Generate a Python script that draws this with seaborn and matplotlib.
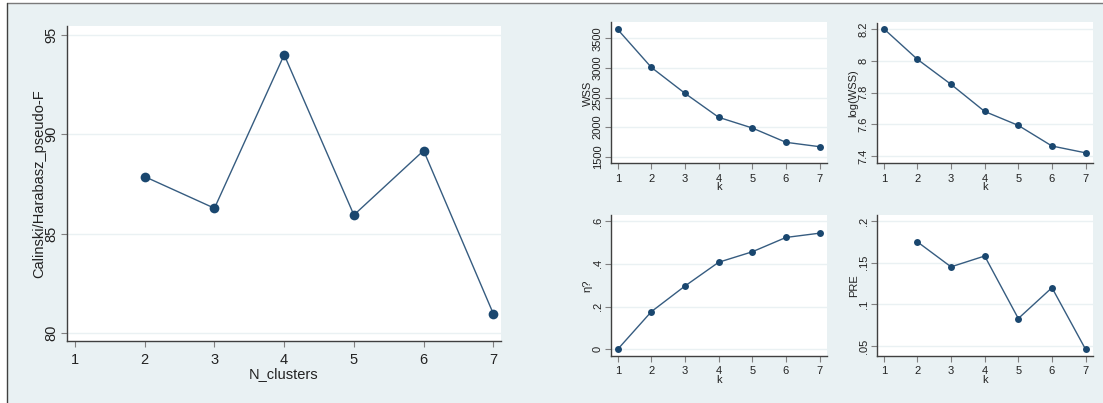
import matplotlib
matplotlib.use("Agg")

import matplotlib.pyplot as plt
from matplotlib.lines import Line2D
from matplotlib.patches import Rectangle
import seaborn as sns

# cluster-stopping statistics
k_values = [1, 2, 3, 4, 5, 6, 7]
n_clusters = [2, 3, 4, 5, 6, 7]
pseudo_f = [87.87, 86.28, 94.0, 85.94, 89.18, 80.97]
wss = [3652, 3010, 2571, 2166, 1985, 1743, 1669]
log_wss = [8.203, 8.010, 7.852, 7.681, 7.593, 7.463, 7.420]
eta_sq = [0.0, 0.176, 0.296, 0.407, 0.456, 0.523, 0.543]
pre_k = [2, 3, 4, 5, 6, 7]
pre = [0.175, 0.145, 0.158, 0.083, 0.120, 0.046]

W, H = 1103, 403
BG = "#E9F1F3"
NAVY = "#1A476F"
LINE = "#365C80"
GRID = "#EAF1F3"

sns.set_theme(style="white")
plt.rcParams["font.family"] = ["Liberation Sans", "DejaVu Sans"]

fig = plt.figure(figsize=(W / 100, H / 100), dpi=100, facecolor="white")

# stata-like graph region: light bluish background, frame on top and left
fig.patches.append(Rectangle((7 / W, 0), 1 - 7 / W, 1 - 3 / H,
                             transform=fig.transFigure, facecolor=BG,
                             edgecolor="none", zorder=-10))
fig.lines.append(Line2D([7 / W, 1], [1 - 3 / H, 1 - 3 / H],
                        transform=fig.transFigure, color="#7A7A7A", lw=1,
                        zorder=-5))
fig.lines.append(Line2D([7 / W, 7 / W], [0, 1 - 3 / H],
                        transform=fig.transFigure, color="#404040", lw=1,
                        zorder=-5))


def px_axes(x0, x1, y0, y1):
    return fig.add_axes([x0 / W, 1 - y1 / H, (x1 - x0) / W, (y1 - y0) / H])


def style_axes(ax, xlim, yticks, ylabels, ylim, xlabel, ylabel, fs,
               tick_pad, xpad, ypad):
    ax.set_facecolor("white")
    ax.set_xlim(*xlim)
    ax.set_ylim(*ylim)
    ax.set_xticks(k_values)
    ax.set_yticks(yticks)
    ax.set_yticklabels(ylabels, rotation=90, va="center")
    for y in yticks:
        ax.axhline(y, color=GRID, lw=1, zorder=0)
    for side in ("top", "right"):
        ax.spines[side].set_visible(False)
    for side in ("left", "bottom"):
        ax.spines[side].set_color("#404040")
        ax.spines[side].set_linewidth(1)
    ax.tick_params(axis="both", which="both", direction="out", length=4,
                   width=0.8, color="#808080", labelsize=fs, pad=2,
                   left=True, bottom=True, labelcolor="#222222")
    ax.tick_params(axis="x", pad=tick_pad)
    ax.set_xlabel(xlabel, fontsize=fs, labelpad=xpad, color="#222222")
    ax.set_ylabel(ylabel, fontsize=fs, labelpad=ypad, color="#222222")


def draw(ax, x, y, ms):
    sns.lineplot(x=x, y=y, ax=ax, color=LINE, lw=1.0, marker="o",
                 markersize=ms, markeredgewidth=0, markerfacecolor=NAVY)


# main panel
ax_main = px_axes(67, 501, 26, 341)
draw(ax_main, n_clusters, pseudo_f, 7)
style_axes(ax_main, (0.885, 7.11), [80, 85, 90, 95], ["80", "85", "90", "95"],
           (79.6, 95.45), "N_clusters", "Calinski/Harabasz_pseudo-F", 10.5,
           5, 0, -1)

# small panels
small_xlim = (0.8, 7.22)

ax_wss = px_axes(611, 827, 22.5, 163.3)
draw(ax_wss, k_values, wss, 5)
style_axes(ax_wss, small_xlim, [1500, 2000, 2500, 3000, 3500],
           ["1500", "2000", "2500", "3000", "3500"], (1388, 3770),
           "k", "WSS", 8, 3.5, -1, 0)

ax_log = px_axes(877, 1093, 22.5, 163.3)
draw(ax_log, k_values, log_wss, 5)
style_axes(ax_log, small_xlim, [7.4, 7.6, 7.8, 8.0, 8.2],
           ["7.4", "7.6", "7.8", "8", "8.2"], (7.354, 8.242),
           "k", "log(WSS)", 8, 3.5, -1, 0)

ax_eta = px_axes(611, 827, 215, 355.7)
draw(ax_eta, k_values, eta_sq, 5)
style_axes(ax_eta, small_xlim, [0, 0.2, 0.4, 0.6], ["0", ".2", ".4", ".6"],
           (-0.03, 0.628), "k", "η?", 8, 3.5, -1, 0)

ax_pre = px_axes(877, 1093, 215, 355.7)
draw(ax_pre, pre_k, pre, 5)
style_axes(ax_pre, small_xlim, [0.05, 0.1, 0.15, 0.2],
           [".05", ".1", ".15", ".2"], (0.0384, 0.2072), "k", "PRE", 8,
           3.5, -1, 0)

fig.savefig("out.png", dpi=100, facecolor=fig.get_facecolor())
plt.close(fig)
